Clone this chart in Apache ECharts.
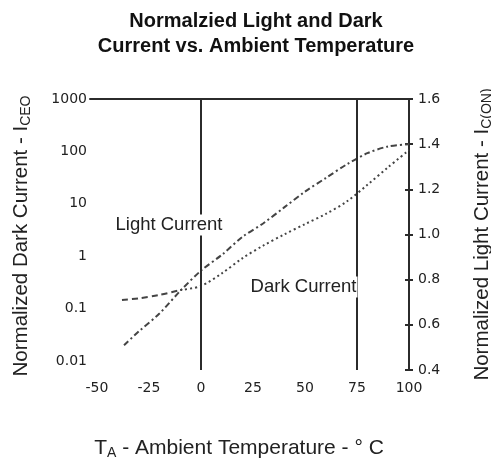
<!DOCTYPE html>
<html>
<head>
<meta charset="utf-8">
<script src="https://cdn.jsdelivr.net/npm/echarts@6/dist/echarts.min.js"></script>
<style>html,body{margin:0;padding:0;background:#fff;}#chart{width:491px;height:465px;}</style>
</head>
<body>
<div id="chart"></div>
<script>
// ---- data ----
const tempTicks = [-50, -25, 0, 25, 50, 75, 100];
const darkTicks = [0.01, 0.1, 1, 10, 100, 1000];
const lightTicks = [0.4, 0.6, 0.8, 1.0, 1.2, 1.4, 1.6];
const refTemps = [0, 75];

const lightTemps  = [-37, -30, -20, -10, 0, 10, 20, 30, 40, 50, 60, 70, 80, 90, 100];
const lightValues = [0.51, 0.57, 0.65, 0.75, 0.84, 0.91, 0.99, 1.05, 1.12, 1.19, 1.25, 1.31, 1.36, 1.39, 1.40];

const darkTemps  = [-38, -30, -20, -10, 0, 10, 20, 30, 40, 50, 60, 70, 80, 90, 100];
const darkValues = [0.146, 0.157, 0.182, 0.226, 0.27, 0.47, 0.92, 1.6, 2.6, 4.1, 6.4, 11, 23, 50, 106];

const annotations = [
  { text: 'Light Current', temp: -15.4, value: 1.042 },
  { text: 'Dark Current',  temp: 49.3,  value: 0.767 }
];

// ---- chart ----
const FONT = 'Liberation Sans, Arial, sans-serif';
const TICKFONT = 'DejaVu Sans';
const INK = '#2b2b2b';
const pair = (xs, ys) => xs.map((x, i) => [x, ys[i]]);
const darkData = pair(darkTemps, darkValues);
const splitIdx = darkTemps.indexOf(-10);
const fmtDark = v => {
  const best = darkTicks.reduce((a, b) => Math.abs(Math.log10(b) - Math.log10(v)) < Math.abs(Math.log10(a) - Math.log10(v)) ? b : a);
  return String(best);
};
const subStyle = { fontFamily: FONT, fontSize: 14, lineHeight: 15, verticalAlign: 'bottom', color: '#222' };

const chart = echarts.init(document.getElementById('chart'), null, { renderer: 'canvas' });
chart.setOption({
  animation: false,
  backgroundColor: '#fff',
  title: {
    text: 'Normalzied Light and Dark\nCurrent vs. Ambient Temperature',
    left: 251, top: 4, textAlign: 'center',
    textStyle: { fontFamily: FONT, fontWeight: 'bold', fontSize: 20, lineHeight: 25, color: '#111' }
  },
  grid: [
    { left: 97, right: 82, top: 99, height: 262, outerBoundsMode: 'none', containLabel: false },
    { left: 97, right: 82, top: 99, height: 271, outerBoundsMode: 'none', containLabel: false },
    { left: 90, right: 79, top: 99, height: 10, outerBoundsMode: 'none', containLabel: false }
  ],
  xAxis: [
    { gridIndex: 0, type: 'value', min: -50, max: 100, interval: 25, show: false },
    {
      gridIndex: 1, type: 'value', min: -50, max: 100, interval: 25, position: 'bottom',
      axisLine: { show: false, onZero: false }, axisTick: { show: false }, splitLine: { show: false },
      axisLabel: { margin: 11, fontFamily: TICKFONT, fontSize: 14, color: '#222' },
      name: 'T{sub|A} - Ambient Temperature - ° C',
      nameLocation: 'middle', nameGap: 66,
      nameTextStyle: {
        fontFamily: FONT, fontSize: 21, color: '#222', lineHeight: 24, padding: [0, 28, 0, 0],
        rich: { sub: subStyle }
      }
    },
    {
      gridIndex: 2, type: 'value', min: 0, max: 1, position: 'top',
      axisLine: { show: true, onZero: false, lineStyle: { color: INK, width: 2 } },
      axisTick: { show: false }, axisLabel: { show: false }, splitLine: { show: false }
    }
  ],
  yAxis: [
    {
      gridIndex: 0, type: 'log', logBase: 10, min: darkTicks[0], max: darkTicks[darkTicks.length - 1], position: 'left',
      axisLine: { show: false, onZero: false }, axisTick: { show: false }, splitLine: { show: false }, minorSplitLine: { show: false },
      axisLabel: { margin: 10, fontFamily: TICKFONT, fontSize: 14, color: '#222', formatter: fmtDark },
      name: 'Normalized Dark Current - I{sub|CEO}',
      nameLocation: 'middle', nameGap: 64, nameRotate: 90,
      nameTextStyle: {
        fontFamily: FONT, fontSize: 20.5, color: '#222', lineHeight: 23, padding: [0, 12, 0, 0],
        rich: { sub: subStyle }
      }
    },
    {
      gridIndex: 1, type: 'value', min: lightTicks[0], max: lightTicks[lightTicks.length - 1], interval: 0.2, position: 'right',
      axisLine: { show: true, onZero: false, lineStyle: { color: INK, width: 2 } },
      axisTick: { show: true, inside: false, length: 4, lineStyle: { color: INK, width: 2 } },
      splitLine: { show: false },
      axisLabel: { margin: 9, fontFamily: TICKFONT, fontSize: 14, color: '#222', formatter: v => v.toFixed(1) },
      name: 'Normalized Light Current - I{sub|C(ON)}',
      nameLocation: 'middle', nameGap: 62, nameRotate: 90,
      nameTextStyle: {
        fontFamily: FONT, fontSize: 20.5, color: '#222', lineHeight: 23,
        rich: { sub: subStyle }
      }
    },
    {
      gridIndex: 1, type: 'value', min: lightTicks[0], max: lightTicks[lightTicks.length - 1], interval: 0.2, position: 'right',
      axisLine: { show: false, onZero: false },
      axisTick: { show: true, inside: true, length: 4, lineStyle: { color: INK, width: 2 } },
      splitLine: { show: false }, axisLabel: { show: false }
    },
    { gridIndex: 2, type: 'value', min: 0, max: 1, show: false }
  ],
  series: [
    {
      name: 'Dark Current (low)', type: 'line', xAxisIndex: 0, yAxisIndex: 0,
      data: darkData.slice(0, splitIdx + 1), smooth: 0.3, symbol: 'none',
      lineStyle: { color: '#444', width: 2, type: [6, 4] }
    },
    {
      name: 'Dark Current', type: 'line', xAxisIndex: 0, yAxisIndex: 0,
      data: darkData.slice(splitIdx), smooth: 0.3, symbol: 'none',
      lineStyle: { color: '#444', width: 2, type: [2, 3] }
    },
    {
      name: 'Light Current', type: 'line', xAxisIndex: 1, yAxisIndex: 1,
      data: pair(lightTemps, lightValues), smooth: 0.3, symbol: 'none',
      lineStyle: { color: '#444', width: 2, type: [6, 3, 2, 3] },
      markLine: {
        silent: true, symbol: 'none', animation: false,
        label: { show: false },
        lineStyle: { color: INK, width: 2, type: 'solid' },
        data: refTemps.map(t => ({ xAxis: t }))
      },
      markPoint: {
        silent: true, symbol: 'rect', symbolSize: 0,
        label: {
          show: true, position: 'inside', formatter: p => p.name,
          fontFamily: FONT, fontSize: 18.5, color: '#222', backgroundColor: '#fff', padding: [1, 1]
        },
        data: annotations.map(a => ({ name: a.text, coord: [a.temp, a.value] }))
      }
    }
  ]
});
</script>
</body>
</html>
